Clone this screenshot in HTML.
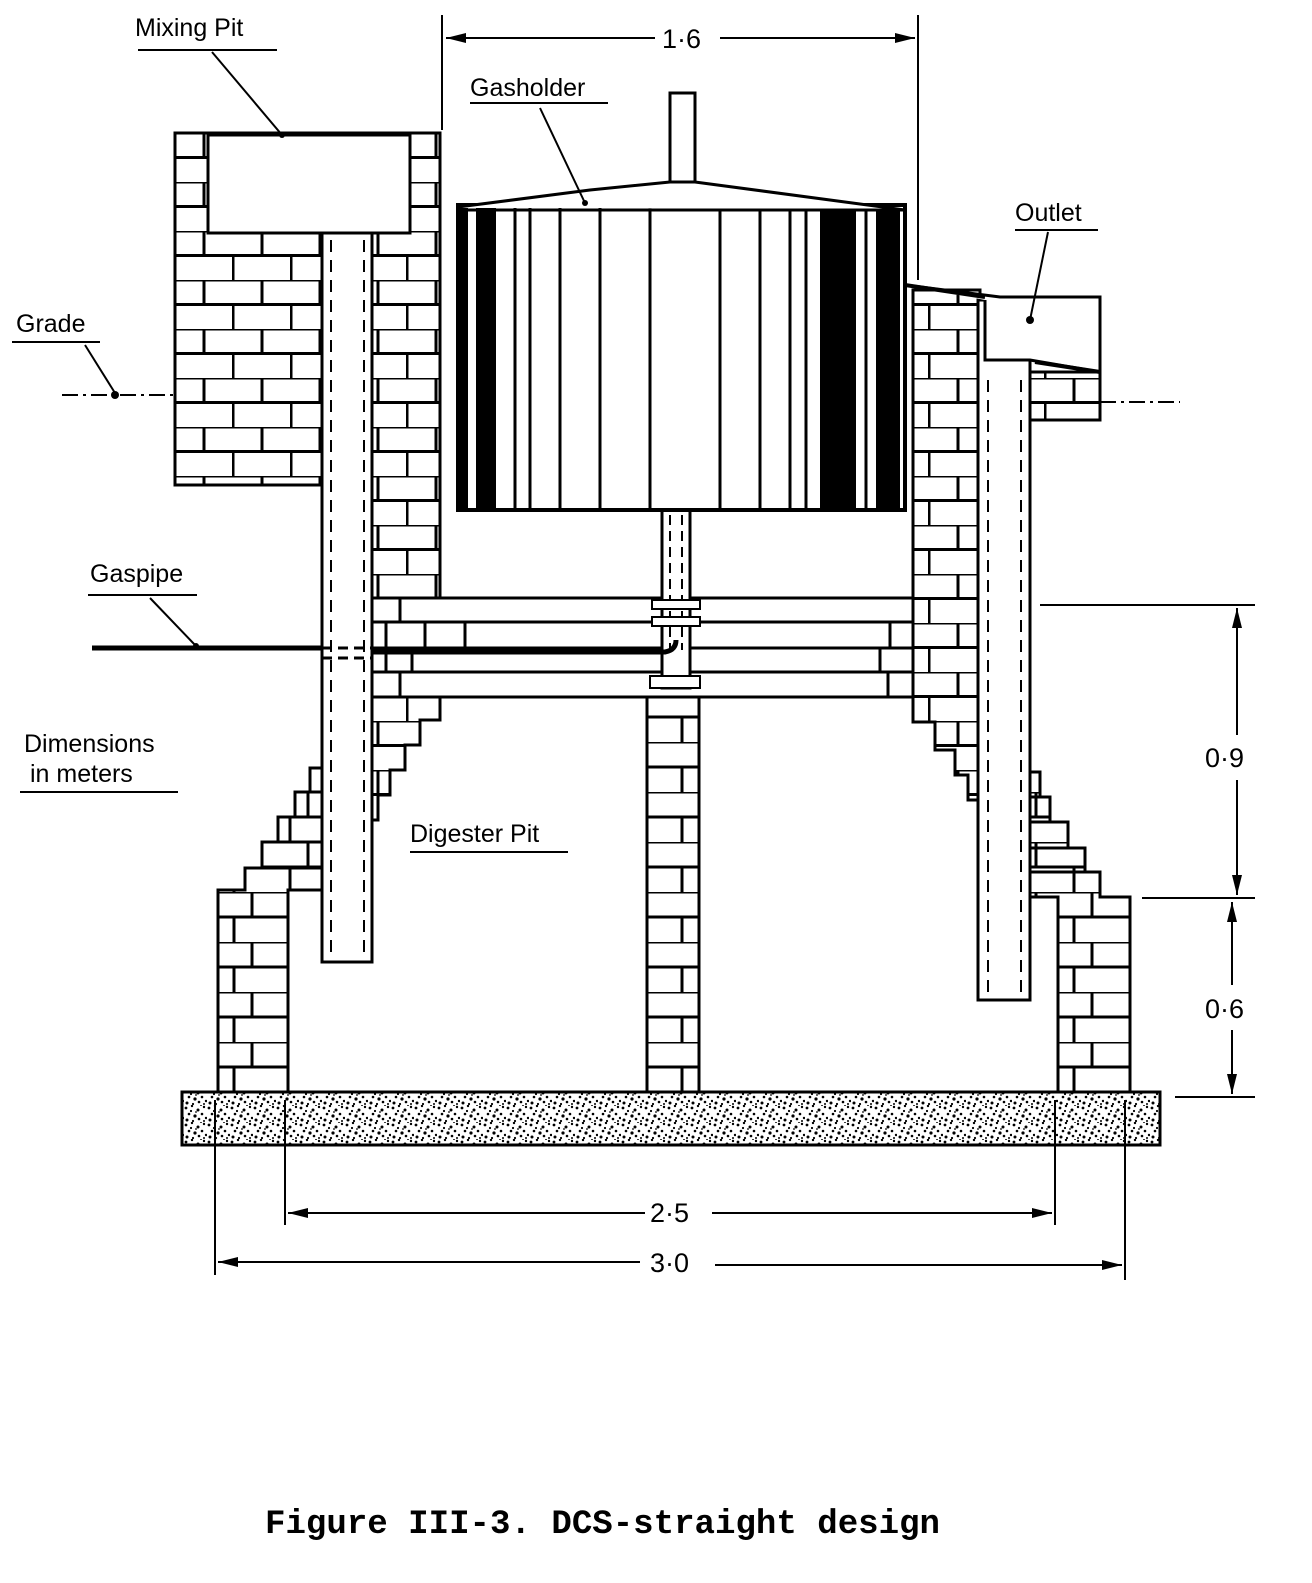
<!DOCTYPE html>
<html><head><meta charset="utf-8"><style>
html,body{margin:0;padding:0;background:#fff;}
svg{display:block}
text{font-family:"Liberation Sans",sans-serif;fill:#000}
</style></head><body>
<svg width="1312" height="1583" viewBox="0 0 1312 1583" xmlns="http://www.w3.org/2000/svg">
<defs>
<pattern id="brick" x="0" y="133" width="58" height="49" patternUnits="userSpaceOnUse">
<rect width="58" height="49" fill="#fff"/>
<line x1="0" y1="0" x2="58" y2="0" stroke="#000" stroke-width="3"/>
<line x1="0" y1="24.5" x2="58" y2="24.5" stroke="#000" stroke-width="3"/>
<line x1="30" y1="0" x2="30" y2="24.5" stroke="#000" stroke-width="3"/>
<line x1="1" y1="24.5" x2="1" y2="49" stroke="#000" stroke-width="3"/>
</pattern>
<pattern id="brick2" x="0" y="1092" width="56" height="50" patternUnits="userSpaceOnUse">
<rect width="56" height="50" fill="#fff"/>
<line x1="0" y1="0" x2="56" y2="0" stroke="#000" stroke-width="3"/>
<line x1="0" y1="25" x2="56" y2="25" stroke="#000" stroke-width="3"/>
<line x1="28" y1="0" x2="28" y2="25" stroke="#000" stroke-width="3"/>
<line x1="10" y1="25" x2="10" y2="50" stroke="#000" stroke-width="3"/>
</pattern>
<pattern id="stip" width="23" height="17" patternUnits="userSpaceOnUse">
<rect width="23" height="17" fill="#fff"/>
<g fill="#000">
<circle cx="2" cy="3" r="1.4"/><circle cx="8" cy="1" r="1.2"/><circle cx="14" cy="5" r="1.5"/><circle cx="20" cy="2" r="1.2"/>
<circle cx="5" cy="9" r="1.3"/><circle cx="11" cy="11" r="1.6"/><circle cx="18" cy="9" r="1.3"/><circle cx="22" cy="13" r="1.2"/>
<circle cx="3" cy="15" r="1.5"/><circle cx="9" cy="16" r="1.1"/><circle cx="15" cy="14" r="1.3"/><circle cx="7" cy="6" r="1.1"/>
<circle cx="17" cy="0" r="1"/><circle cx="12" cy="7" r="0.9"/><circle cx="20" cy="16" r="1"/>
</g>
</pattern>
</defs>

<polygon points="175,133 440,133 440,598 372,598 372,962 322,962 322,485 175,485" fill="url(#brick)" stroke="#000" stroke-width="3"/>
<rect x="208" y="135" width="202" height="98" fill="#fff" stroke="#000" stroke-width="3"/>
<rect x="322" y="233" width="50" height="729" fill="#fff" stroke="#000" stroke-width="3"/>
<line x1="331" y1="240" x2="331" y2="955" stroke="#000" stroke-width="2" stroke-dasharray="12,8"/>
<line x1="364" y1="240" x2="364" y2="955" stroke="#000" stroke-width="2" stroke-dasharray="12,8"/>

<polygon points="372,697 440,697 440,720 420,720 420,745 405,745 405,770 390,770 390,795 378,795 378,820 372,820" fill="url(#brick)" stroke="#000" stroke-width="3"/>

<polygon points="218,1092 218,890 245,890 245,868 262,868 262,842 278,842 278,817 295,817 295,792 310,792 310,768 322,768 322,890 288,890 288,1092" fill="url(#brick2)" stroke="#000" stroke-width="3"/>
<line x1="245" y1="868" x2="322" y2="868" stroke="#000" stroke-width="3"/>
<line x1="262" y1="842" x2="322" y2="842" stroke="#000" stroke-width="3"/>
<line x1="278" y1="817" x2="322" y2="817" stroke="#000" stroke-width="3"/>
<line x1="295" y1="792" x2="322" y2="792" stroke="#000" stroke-width="3"/>

<rect x="372" y="598" width="541" height="99" fill="#fff" stroke="#000" stroke-width="3"/>
<g stroke="#000" stroke-width="3">
<line x1="372" y1="622" x2="913" y2="622"/><line x1="372" y1="648" x2="913" y2="648"/><line x1="372" y1="672" x2="913" y2="672"/>
<line x1="400" y1="598" x2="400" y2="622"/><line x1="386" y1="622" x2="386" y2="648"/><line x1="425" y1="622" x2="425" y2="648"/><line x1="465" y1="622" x2="465" y2="648"/>
<line x1="386" y1="648" x2="386" y2="672"/><line x1="412" y1="648" x2="412" y2="672"/><line x1="400" y1="672" x2="400" y2="697"/>
<line x1="890" y1="622" x2="890" y2="648"/><line x1="950" y1="622" x2="950" y2="648"/><line x1="880" y1="648" x2="880" y2="672"/><line x1="888" y1="672" x2="888" y2="697"/><line x1="914" y1="672" x2="914" y2="697"/>
</g>

<rect x="647" y="697" width="52" height="395" fill="url(#brick2)" stroke="#000" stroke-width="3"/>
<rect x="662" y="510" width="28" height="178" fill="#fff" stroke="#000" stroke-width="3"/>
<line x1="670" y1="515" x2="670" y2="650" stroke="#000" stroke-width="2" stroke-dasharray="10,6"/>
<line x1="682" y1="515" x2="682" y2="650" stroke="#000" stroke-width="2" stroke-dasharray="10,6"/>
<rect x="652" y="600" width="48" height="9" fill="#fff" stroke="#000" stroke-width="2"/>
<rect x="652" y="617" width="48" height="9" fill="#fff" stroke="#000" stroke-width="2"/>
<rect x="650" y="676" width="50" height="12" fill="#fff" stroke="#000" stroke-width="2"/>

<line x1="92" y1="648" x2="322" y2="648" stroke="#000" stroke-width="5"/>
<line x1="322" y1="648" x2="372" y2="648" stroke="#000" stroke-width="3" stroke-dasharray="10,6"/>
<line x1="322" y1="658" x2="372" y2="658" stroke="#000" stroke-width="3" stroke-dasharray="10,6"/>
<path d="M372,652 L665,652 Q676,650 676,640" fill="none" stroke="#000" stroke-width="5"/>

<polygon points="913,290 980,290 980,800 968,800 968,775 955,775 955,750 935,750 935,722 913,722" fill="url(#brick)" stroke="#000" stroke-width="3"/>
<rect x="978" y="300" width="52" height="700" fill="#fff" stroke="#000" stroke-width="3"/>
<line x1="988" y1="380" x2="988" y2="992" stroke="#000" stroke-width="2" stroke-dasharray="12,8"/>
<line x1="1021" y1="380" x2="1021" y2="992" stroke="#000" stroke-width="2" stroke-dasharray="12,8"/>
<polygon points="1030,372 1100,372 1100,420 1030,420" fill="url(#brick)" stroke="#000" stroke-width="3"/>
<path d="M905,285 L1000,297 L1100,297 L1100,372 L1030,360 L985,360 L985,300" fill="#fff" stroke="#000" stroke-width="3"/>
<path d="M905,285 L985,297 M1035,362 L1100,372" stroke="#000" stroke-width="4"/>

<polygon points="1130,1092 1130,897 1100,897 1100,872 1085,872 1085,848 1068,848 1068,822 1050,822 1050,797 1040,797 1040,772 1030,772 1030,897 1058,897 1058,1092" fill="url(#brick2)" stroke="#000" stroke-width="3"/>
<g stroke="#000" stroke-width="3">
<line x1="1030" y1="872" x2="1100" y2="872"/><line x1="1030" y1="848" x2="1085" y2="848"/><line x1="1030" y1="822" x2="1068" y2="822"/><line x1="1030" y1="797" x2="1050" y2="797"/>
</g>

<rect x="458" y="205" width="447" height="305" fill="#fff" stroke="#000" stroke-width="4"/>
<g fill="#000">
<rect x="458" y="208" width="10" height="302"/><rect x="476" y="208" width="20" height="302"/>
<rect x="820" y="208" width="36" height="302"/><rect x="876" y="208" width="24" height="302"/>
</g>
<g stroke="#000" stroke-width="3">
<line x1="515" y1="208" x2="515" y2="510"/><line x1="530" y1="208" x2="530" y2="510"/><line x1="560" y1="208" x2="560" y2="510"/>
<line x1="600" y1="208" x2="600" y2="510"/><line x1="650" y1="208" x2="650" y2="510"/><line x1="720" y1="208" x2="720" y2="510"/>
<line x1="760" y1="208" x2="760" y2="510"/><line x1="790" y1="208" x2="790" y2="510"/><line x1="806" y1="208" x2="806" y2="510"/>
<line x1="866" y1="208" x2="866" y2="510"/>
</g>
<path d="M458,207 L590,190 L670,182 L695,182 L905,210" fill="#fff" stroke="#000" stroke-width="3"/>
<line x1="458" y1="210" x2="905" y2="210" stroke="#000" stroke-width="3"/>
<rect x="670" y="93" width="25" height="89" fill="#fff" stroke="#000" stroke-width="3"/>

<rect x="182" y="1092" width="978" height="53" fill="url(#stip)" stroke="#000" stroke-width="3"/>

<line x1="62" y1="395" x2="175" y2="395" stroke="#000" stroke-width="2" stroke-dasharray="16,5,3,5"/>
<line x1="1100" y1="402" x2="1180" y2="402" stroke="#000" stroke-width="2" stroke-dasharray="16,5,3,5"/>

<g stroke="#000" stroke-width="2" fill="none">
<line x1="442" y1="15" x2="442" y2="130"/><line x1="918" y1="15" x2="918" y2="280"/>
<line x1="446" y1="38" x2="655" y2="38"/><line x1="720" y1="38" x2="915" y2="38"/>
<line x1="1040" y1="605" x2="1255" y2="605"/><line x1="1142" y1="898" x2="1255" y2="898"/><line x1="1175" y1="1097" x2="1255" y2="1097"/>
<line x1="1237" y1="608" x2="1237" y2="735"/><line x1="1237" y1="780" x2="1237" y2="895"/>
<line x1="1232" y1="902" x2="1232" y2="985"/><line x1="1232" y1="1030" x2="1232" y2="1094"/>
<line x1="285" y1="1100" x2="285" y2="1225"/><line x1="1055" y1="1100" x2="1055" y2="1225"/>
<line x1="215" y1="1100" x2="215" y2="1275"/><line x1="1125" y1="1100" x2="1125" y2="1280"/>
<line x1="288" y1="1213" x2="645" y2="1213"/><line x1="712" y1="1213" x2="1052" y2="1213"/>
<line x1="218" y1="1262" x2="640" y2="1262"/><line x1="715" y1="1265" x2="1122" y2="1265"/>
</g>
<g fill="#000">
<polygon points="446,38 466,33 466,43"/><polygon points="915,38 895,33 895,43"/>
<polygon points="1237,608 1232,628 1242,628"/><polygon points="1237,895 1232,875 1242,875"/>
<polygon points="1232,902 1227,922 1237,922"/><polygon points="1232,1094 1227,1074 1237,1074"/>
<polygon points="288,1213 308,1208 308,1218"/><polygon points="1052,1213 1032,1208 1032,1218"/>
<polygon points="218,1262 238,1257 238,1267"/><polygon points="1122,1265 1102,1260 1102,1270"/>
</g>

<g stroke="#000" stroke-width="2" fill="none">
<line x1="138" y1="50" x2="277" y2="50"/><line x1="212" y1="52" x2="282" y2="135"/>
<line x1="470" y1="103" x2="608" y2="103"/><line x1="540" y1="108" x2="585" y2="203"/>
<line x1="1015" y1="230" x2="1098" y2="230"/><line x1="1048" y1="232" x2="1030" y2="320"/>
<line x1="12" y1="342" x2="100" y2="342"/><line x1="85" y1="345" x2="115" y2="393"/>
<line x1="88" y1="595" x2="197" y2="595"/><line x1="150" y1="598" x2="196" y2="646"/>
<line x1="20" y1="792" x2="178" y2="792"/><line x1="410" y1="852" x2="568" y2="852"/>
</g>
<g fill="#000"><circle cx="282" cy="135" r="3"/><circle cx="585" cy="203" r="3"/><circle cx="1030" cy="320" r="4"/><circle cx="115" cy="395" r="4"/><circle cx="196" cy="646" r="3"/></g>

<g font-size="25">
<text x="135" y="36">Mixing Pit</text>
<text x="470" y="96">Gasholder</text>
<text x="1015" y="221">Outlet</text>
<text x="16" y="332">Grade</text>
<text x="90" y="582">Gaspipe</text>
<text x="24" y="752">Dimensions</text>
<text x="30" y="782">in meters</text>
<text x="410" y="842">Digester Pit</text>
<text x="662" y="48" font-size="27">1·6</text>
<text x="1205" y="767" font-size="27">0·9</text>
<text x="1205" y="1018" font-size="27">0·6</text>
<text x="650" y="1222" font-size="27">2·5</text>
<text x="650" y="1272" font-size="27">3·0</text>
</g>
<text x="265" y="1533" font-size="34" font-weight="bold" style="font-family:'Liberation Mono',monospace" textLength="675" lengthAdjust="spacingAndGlyphs">Figure III-3. DCS-straight design</text>
</svg>
</body></html>
